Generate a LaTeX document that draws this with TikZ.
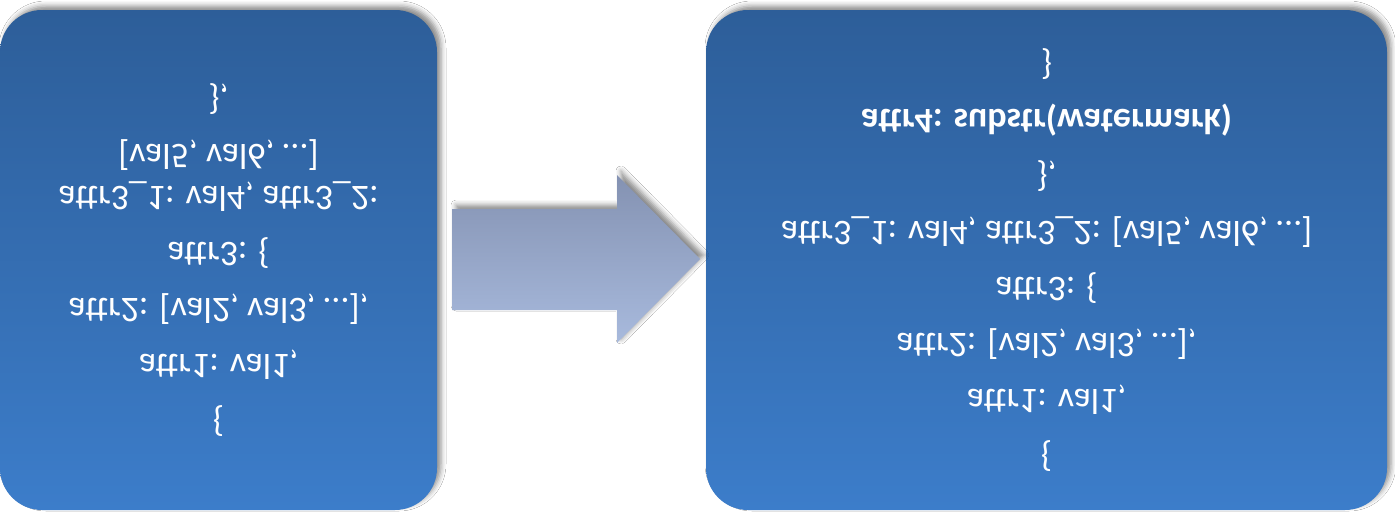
\documentclass[tikz,border=0pt]{standalone}
\usepackage{fontspec}
\setmainfont{Carlito}
\usetikzlibrary{shadows.blur}
\definecolor{boxtop}{RGB}{45,94,153}
\definecolor{boxbot}{RGB}{60,125,202}
\definecolor{arrtop}{RGB}{132,146,178}
\definecolor{arrbot}{RGB}{168,186,221}
\tikzset{
  panel/.style={rectangle, rounded corners=42pt, top color=boxtop, bottom color=boxbot,
    draw=none, inner sep=0pt,
    blur shadow={shadow xshift=4pt, shadow yshift=4pt, shadow blur radius=5pt, shadow opacity=45}},
  arrowshape/.style={top color=arrtop, bottom color=arrbot, draw=none,
    blur shadow={shadow xshift=4pt, shadow yshift=4pt, shadow blur radius=5pt, shadow opacity=45}},
  code/.style={text=white, align=center, inner sep=0pt,
    font=\fontsize{36}{42}\selectfont, yscale=-1},
}
\begin{document}
\begin{tikzpicture}[x=1pt,y=-1pt]
\useasboundingbox (0,0) rectangle (1395,514);
\fill[white] (0,0) rectangle (1395,514);
\node[panel, minimum width=437pt, minimum height=500pt] (L) at (218.5,260) {};
\node[panel, minimum width=681pt, minimum height=500pt] (R) at (1046.5,260) {};
\path[arrowshape] (452,209) -- (617,209) -- (617,175) -- (700,259) -- (617,343) -- (617,310) -- (452,310) -- cycle;
\node[code] (LT) at (L.center) {\{\\[14pt]
attr1: val1,\\[14pt]
attr2: [val2, val3, …],\\[14pt]
attr3: \{\\[14pt]
attr3\_1: val4, attr3\_2:\\{}[val5, val6, …]\\[14pt]
\},};
\node[code] (RT) at (R.center) {\{\\[14pt]
attr1: val1,\\[14pt]
attr2: [val2, val3, …],\\[14pt]
attr3: \{\\[14pt]
attr3\_1: val4, attr3\_2: [val5, val6, …]\\[14pt]
\},\\[14pt]
\textbf{attr4: substr(watermark)}\\[14pt]
\}};
\end{tikzpicture}
\end{document}
